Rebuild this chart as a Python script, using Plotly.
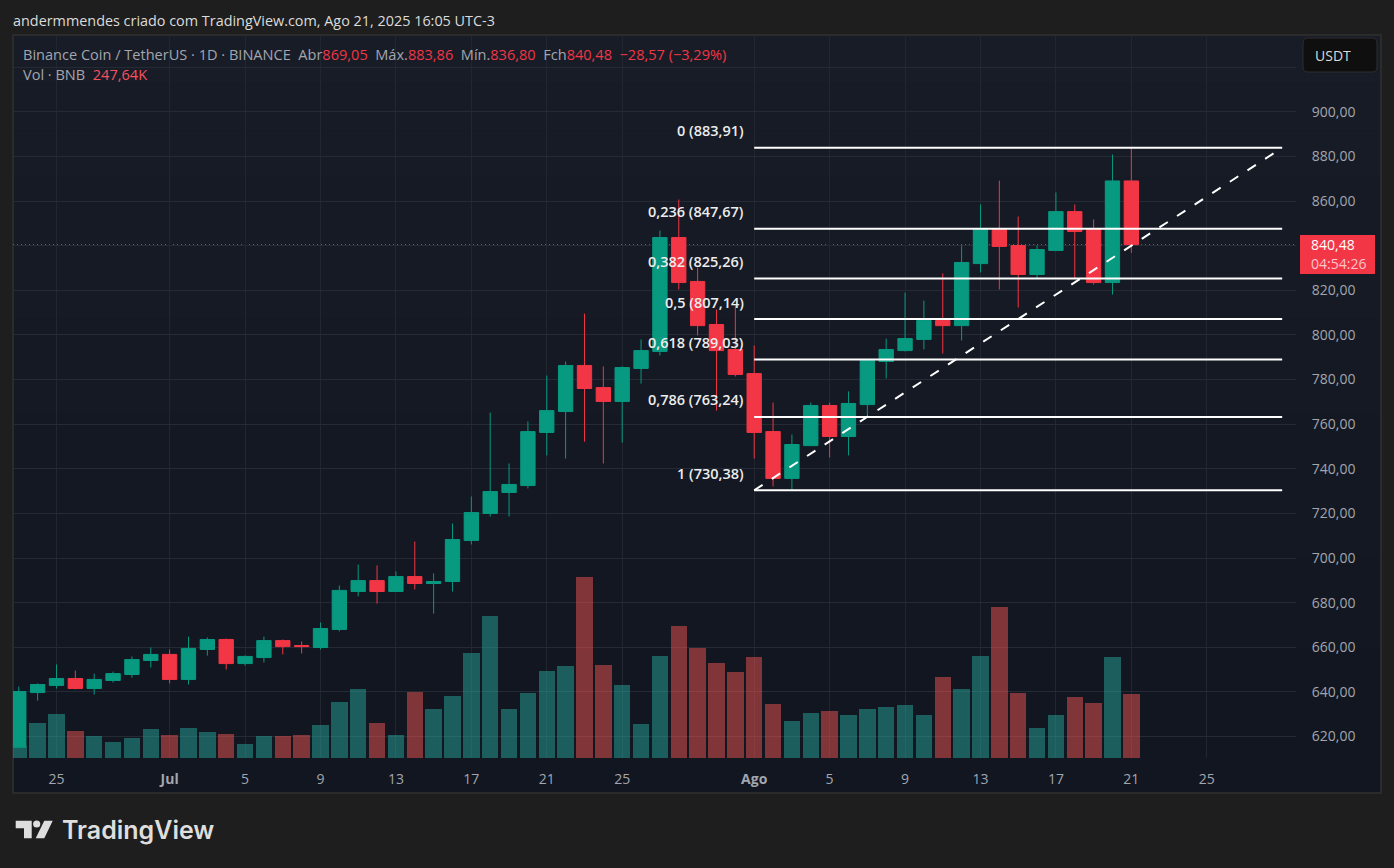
import pandas as pd
import plotly.graph_objects as go

# --- data ---
dates = pd.date_range("2025-06-23", "2025-08-21", freq="D")

opens = [615.2, 639.7, 642.9, 646.0, 641.5, 645.1, 647.8, 654.1, 656.8, 645.6,
         659.0, 663.5, 652.7, 655.4, 663.0, 660.8, 659.9, 668.0, 685.0, 689.9,
         685.0, 691.7, 688.6, 689.5, 707.9, 720.0, 729.4, 732.5, 756.3, 765.7,
         786.3, 776.4, 770.2, 785.0, 792.6, 843.7, 824.0, 804.7, 793.5, 782.7,
         756.7, 735.7, 750.4, 768.4, 754.5, 768.8, 788.1, 793.0, 798.0, 806.5,
         804.2, 832.0, 847.3, 840.1, 827.1, 837.9, 855.3, 847.3, 823.5, 869.05]
highs = [642.4, 643.8, 652.3, 649.6, 648.2, 649.1, 655.9, 659.9, 659.0, 664.8,
         664.4, 663.9, 656.3, 664.8, 663.5, 662.6, 671.1, 687.7, 697.1, 696.7,
         694.0, 707.4, 693.1, 715.5, 727.6, 765.2, 742.4, 761.2, 781.8, 788.1,
         809.6, 785.9, 785.9, 798.0, 846.8, 860.7, 830.2, 811.4, 813.2, 795.3,
         769.7, 755.4, 769.7, 769.7, 774.7, 789.0, 798.4, 819.0, 815.4, 827.6,
         840.1, 858.5, 869.2, 853.1, 840.1, 863.9, 858.5, 851.8, 880.9, 883.86]
lows = [614.8, 636.1, 641.5, 641.1, 638.8, 644.2, 646.4, 650.9, 643.8, 643.3,
        656.3, 650.0, 651.8, 653.2, 656.8, 657.2, 659.0, 667.1, 682.8, 679.6,
        684.8, 685.9, 675.1, 685.0, 706.1, 718.6, 718.6, 731.2, 746.0, 744.6,
        752.2, 742.4, 751.8, 778.2, 790.8, 820.4, 799.8, 766.1, 781.4, 744.6,
        732.1, 730.7, 750.2, 745.1, 746.0, 763.4, 780.5, 792.6, 793.5, 791.7,
        797.5, 828.0, 820.4, 812.3, 825.3, 837.6, 825.3, 822.6, 818.1, 836.80]
closes = [640.2, 643.3, 646.0, 641.5, 645.6, 648.2, 654.5, 656.8, 645.6, 659.5,
          663.5, 652.7, 655.9, 663.0, 660.3, 660.3, 668.4, 685.5, 689.9, 685.0,
          691.7, 688.6, 689.5, 708.3, 720.4, 729.8, 733.0, 756.7, 766.1, 786.3,
          776.0, 770.2, 785.4, 793.0, 843.7, 823.5, 804.2, 793.0, 782.3, 756.3,
          735.7, 750.9, 768.4, 754.5, 769.3, 788.6, 793.5, 798.4, 806.5, 804.2,
          832.5, 847.3, 839.7, 827.1, 838.3, 855.3, 846.4, 823.5, 869.05, 840.48]
volumes = [45, 135, 170, 104, 85, 62, 77, 112, 89, 116,
           101, 93, 54, 85, 85, 89, 128, 217, 267, 135,
           89, 255, 190, 240, 406, 550, 190, 252, 337, 356,
           700, 360, 283, 132, 395, 511, 426, 368, 333, 391,
           209, 143, 174, 182, 166, 190, 197, 205, 166, 313,
           267, 395, 584, 252, 116, 166, 236, 213, 391, 247.64]

fib_prices = [883.91, 847.67, 825.26, 807.14, 789.03, 763.24, 730.38]
fib_labels = ["0 (883,91)", "0,236 (847,67)", "0,382 (825,26)", "0,5 (807,14)",
              "0,618 (789,03)", "0,786 (763,24)", "1 (730,38)"]
fib_start = "2025-08-01"
fib_end = "2025-08-29"
last_price = 840.48

price_ticks = [620, 640, 660, 680, 700, 720, 740, 760, 780, 800, 820, 840, 860, 880, 900, 920]
price_labels = ["620,00", "640,00", "660,00", "680,00", "700,00", "720,00", "740,00", "760,00",
                "780,00", "800,00", "820,00", "", "860,00", "880,00", "900,00", ""]
time_ticks = ["2025-06-25", "2025-07-01", "2025-07-05", "2025-07-09", "2025-07-13", "2025-07-17",
              "2025-07-21", "2025-07-25", "2025-08-01", "2025-08-05", "2025-08-09", "2025-08-13",
              "2025-08-17", "2025-08-21", "2025-08-25"]
time_labels = ["25", "<b>Jul</b>", "5", "9", "13", "17", "21", "25", "<b>Ago</b>", "5", "9", "13", "17", "21", "25"]

FONT = "Open Sans"
GREEN = "#089981"
RED = "#f23645"
GREY = "#a3a6af"

# plot area in page pixels
X0, X1, Y0, Y1 = 13, 1296, 35, 758


def px(x):
    return (x - X0) / (X1 - X0)


def py(y):
    return (Y1 - y) / (Y1 - Y0)


def rect(x0, y0, x1, y1, fill, line=None, width=0):
    return dict(type="rect", xref="paper", yref="paper", layer="below",
                x0=px(x0), x1=px(x1), y0=py(y0), y1=py(y1),
                fillcolor=fill, line=dict(color=line or fill, width=width))


def poly(points, fill):
    path = "M " + " L ".join(f"{px(x)} {py(y)}" for x, y in points) + " Z"
    return dict(type="path", xref="paper", yref="paper", path=path, fillcolor=fill, line=dict(width=0))


def label(text, x, y, size=14.55, color=GREY, anchor="left", weight=400, family=FONT):
    return dict(text=text, xref="paper", yref="paper", x=px(x), y=py(y), xanchor=anchor, yanchor="middle",
                showarrow=False, font=dict(family=family, size=size, color=color, weight=weight),
                borderpad=0, borderwidth=0)


fig = go.Figure()

# volume sits behind the candles on its own hidden scale
vol_colors = ["rgba(38,166,154,0.5)" if c >= o else "rgba(239,83,80,0.5)" for o, c in zip(opens, closes)]
fig.add_trace(go.Bar(x=dates, y=volumes, marker=dict(color=vol_colors, line=dict(width=0)),
                     width=16.4 / 18.86 * 86400000, yaxis="y"))

fig.add_trace(go.Candlestick(
    x=dates, open=opens, high=highs, low=lows, close=closes, yaxis="y2", whiskerwidth=0,
    increasing=dict(line=dict(color=GREEN, width=1), fillcolor=GREEN),
    decreasing=dict(line=dict(color=RED, width=1), fillcolor=RED),
))

# fibonacci levels
for price in fib_prices:
    fig.add_trace(go.Scatter(x=[fib_start, fib_end], y=[price, price], mode="lines", yaxis="y2",
                             line=dict(color="white", width=2)))
fig.add_trace(go.Scatter(x=[fib_start, fib_end], y=[fib_prices[-1], fib_prices[0]], mode="lines", yaxis="y2",
                         line=dict(color="white", width=2, dash="10px,11px")))

# panel background, slightly lighter at the top
shapes = [rect(13, 35, 1381, 793, "#14181f", "#2b2b2b", 2)]
bands = 16
for i in range(bands):
    t = i / (bands - 1)
    col = "rgb(%d,%d,%d)" % (24 - 7 * t, 28 - 6 * t, 39 - 7 * t)
    shapes.append(rect(14, 36 + i * 756 / bands, 1380, 36 + (i + 1) * 756 / bands, col))

# last price line, under the candles
shapes.append(dict(type="line", xref="paper", yref="y2", layer="below", x0=0, x1=1, y0=last_price, y1=last_price,
                   line=dict(color=RED, width=1, dash="1px,3px")))

# price tag and currency button
shapes.append(dict(type="rect", xref="paper", yref="paper", x0=px(1300), x1=px(1375), y0=py(235), y1=py(274),
                   fillcolor=RED, line=dict(width=0)))
shapes.append(dict(type="path", xref="paper", yref="paper", fillcolor="#0f0f0f",
                   line=dict(color="#2e2e2e", width=1),
                   path=f"M {px(1308)} {py(38)} L {px(1372)} {py(38)} Q {px(1377)} {py(38)} {px(1377)} {py(43)} "
                        f"L {px(1377)} {py(67)} Q {px(1377)} {py(72)} {px(1372)} {py(72)} L {px(1308)} {py(72)} "
                        f"Q {px(1303)} {py(72)} {px(1303)} {py(67)} L {px(1303)} {py(43)} "
                        f"Q {px(1303)} {py(38)} {px(1308)} {py(38)} Z"))

# TradingView logo
logo = "#dedede"
shapes.append(poly([(15.7, 820.7), (31.7, 820.7), (31.7, 838.3), (24, 838.3), (24, 828.3), (15.7, 828.3)], logo))
shapes.append(dict(type="circle", xref="paper", yref="paper", x0=px(33.1), x1=px(40.3), y0=py(820.4), y1=py(827.6),
                   fillcolor=logo, line=dict(width=0)))
shapes.append(poly([(44.3, 820.7), (52.7, 820.7), (44.3, 838.3), (35.7, 838.3)], logo))

n = "\u00a0"
red = lambda s: f'<span style="color:{RED}">{s}</span>'
annotations = [
    label("andermmendes criado com TradingView.com, Ago 21, 2025 16:05 UTC-3", 13, 20, color="#dbdbdb", size=14.4),
    label(f"Binance Coin / TetherUS · 1D · BINANCE{n}{n}Abr{red('869,05')}{n}{n}Máx.{red('883,86')}{n}{n}"
          f"Mín.{red('836,80')}{n}{n}Fch{red('840,48')}{n}{n}{red('−28,57 (−3,29%)')}", 23, 54),
    label(f"Vol · BNB{n}{n}<span style=\"color:#f7525f\">247,64K</span>", 23, 74),
    label("USDT", 1315, 55, color="#dbdbdb", size=14, weight=500),
    label("840,48", 1311, 245, color="white", size=14, weight=500),
    label("04:54:26", 1311, 263, color="#fcc5cb", size=14),
    label("TradingView", 62, 830, size=25, color=logo, weight=600, family="Inter"),
]
for text, price in zip(fib_labels, fib_prices):
    annotations.append(dict(text=text, xref="x", yref="y2", x=fib_start, y=price, xanchor="right", yanchor="middle",
                            xshift=-8.5, yshift=17, showarrow=False,
                            font=dict(family=FONT, size=14.5, color="#ececec", weight=600)))

fig.update_layout(
    width=1394, height=868, autosize=False,
    margin=dict(l=X0, r=1394 - X1, t=Y0, b=868 - Y1, pad=0),
    paper_bgcolor="#1e1e1e", plot_bgcolor="rgba(0,0,0,0)",
    showlegend=False, boxgap=0.24, boxgroupgap=0, bargap=0, hovermode=False,
    font=dict(family=FONT, size=14, color=GREY),
    xaxis=dict(type="date", range=["2025-06-22 16:39", "2025-08-29 17:35"], rangeslider=dict(visible=False),
               tickmode="array", tickvals=time_ticks, ticktext=time_labels, tickangle=0,
               ticks="outside", ticklen=8, tickcolor="rgba(0,0,0,0)",
               showgrid=True, gridcolor="#222631", gridwidth=1, showline=False, zeroline=False),
    yaxis=dict(range=[0, 2798], visible=False, showgrid=False, zeroline=False, fixedrange=True),
    yaxis2=dict(range=[610.37, 934.47], overlaying="y", side="right", anchor="x",
                tickmode="array", tickvals=price_ticks, ticktext=price_labels,
                ticks="outside", ticklen=12, tickcolor="rgba(0,0,0,0)",
                showgrid=True, gridcolor="#262a35", gridwidth=1, showline=False, zeroline=False),
    shapes=shapes,
    annotations=annotations,
)

fig.write_html("out.html", config=dict(displayModeBar=False),
               post_script="document.body.style.margin='0';document.body.style.background='#1e1e1e';")
